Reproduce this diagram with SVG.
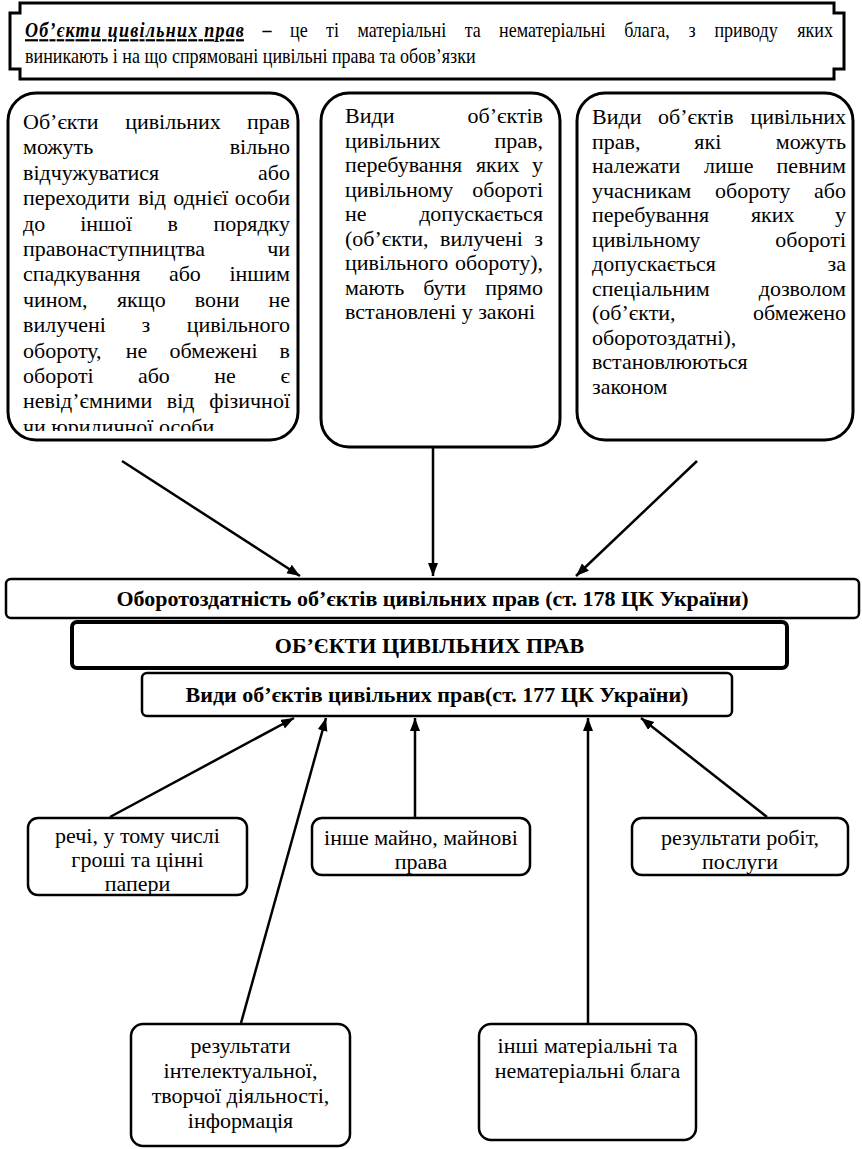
<svg xmlns="http://www.w3.org/2000/svg" width="862" height="1149" viewBox="0 0 862 1149" font-family="Liberation Serif, Times New Roman, serif">
<defs>
<style>
text{font-family:'Liberation Serif','Times New Roman',serif}
.t{font-size:22px;fill:#000}
.b{font-weight:bold}
.m{text-anchor:middle}
.e{text-anchor:end}
.box{fill:#fff;stroke:#000;stroke-width:3}
.bx{fill:#fff;stroke:#000;stroke-width:2.5}
.conn line{stroke:#000;stroke-width:2.5;fill:none}
</style>
<marker id="ar" markerUnits="userSpaceOnUse" markerWidth="14" markerHeight="12" refX="13" refY="5" orient="auto">
<path d="M0,0 L13,5 L0,10 z" fill="#000"/>
</marker>
<clipPath id="clipA"><rect x="8" y="93" width="290" height="338"/></clipPath>
</defs>
<rect width="862" height="1149" fill="#fff"/>

<g id="connectors" class="conn">
<line x1="122" y1="461" x2="300" y2="576" marker-end="url(#ar)"/>
<line x1="433" y1="447" x2="433" y2="576" marker-end="url(#ar)"/>
<line x1="697" y1="461" x2="576" y2="576" marker-end="url(#ar)"/>
<line x1="110" y1="817" x2="294" y2="718" marker-end="url(#ar)"/>
<line x1="241" y1="1023" x2="326" y2="718" marker-end="url(#ar)"/>
<line x1="415" y1="817" x2="415" y2="718" marker-end="url(#ar)"/>
<line x1="588" y1="1023" x2="588" y2="718" marker-end="url(#ar)"/>
<line x1="767" y1="817" x2="641" y2="718" marker-end="url(#ar)"/>
</g>

<g id="header">
<path d="M20,3 H834 V13 H844 V69 H834 V79 H20 V69 H10 V13 H20 Z" fill="#fff" stroke="#000" stroke-width="3"/>
<g transform="scale(0.82 1)">
<text class="t b" x="30.5" y="37" font-style="italic" text-decoration="underline" textLength="267" lengthAdjust="spacing">Об’єкти цивільних прав</text>
<text class="t b m" x="325.6" y="37">–</text>
<text class="t m" x="364.4" y="37">це</text>
<text class="t m" x="405.5" y="37">ті</text>
<text class="t m" x="490" y="37">матеріальні</text>
<text class="t m" x="576.5" y="37">та</text>
<text class="t m" x="673.5" y="37">нематеріальні</text>
<text class="t m" x="789" y="37">блага,</text>
<text class="t m" x="844" y="37">з</text>
<text class="t m" x="909.9" y="37">приводу</text>
<text class="t e" x="1015.9" y="37">яких</text>
<text class="t" x="30.5" y="63">виникають і на що спрямовані цивільні права та обов’язки</text>
</g>
</g>

<g id="boxA">
<rect class="box" x="8" y="93" width="290" height="347" rx="28"/>
<g clip-path="url(#clipA)">
<text class="t" x="23" y="129">Об’єкти</text><text class="t m" x="173" y="129">цивільних</text><text class="t e" x="290" y="129">прав</text>
<text class="t" x="23" y="154">можуть</text><text class="t e" x="290" y="154">вільно</text>
<text class="t" x="23" y="180">відчужуватися</text><text class="t e" x="290" y="180">або</text>
<text class="t" x="23" y="205">переходити</text><text class="t m" x="152" y="205">від</text><text class="t m" x="200.7" y="205">однієї</text><text class="t e" x="290" y="205">особи</text>
<text class="t" x="23" y="231">до</text><text class="t m" x="106.2" y="231">іншої</text><text class="t m" x="172.7" y="231">в</text><text class="t e" x="290" y="231">порядку</text>
<text class="t" x="23" y="256">правонаступництва</text><text class="t e" x="290" y="256">чи</text>
<text class="t" x="23" y="281">спадкування</text><text class="t m" x="184.9" y="281">або</text><text class="t e" x="290" y="281">іншим</text>
<text class="t" x="23" y="307">чином,</text><text class="t m" x="141.3" y="307">якщо</text><text class="t m" x="217.2" y="307">вони</text><text class="t e" x="290" y="307">не</text>
<text class="t" x="23" y="332">вилучені</text><text class="t m" x="145.9" y="332">з</text><text class="t e" x="290" y="332">цивільного</text>
<text class="t" x="23" y="358">обороту,</text><text class="t m" x="136.6" y="358">не</text><text class="t m" x="213.5" y="358">обмежені</text><text class="t e" x="290" y="358">в</text>
<text class="t" x="23" y="383">обороті</text><text class="t m" x="153.9" y="383">або</text><text class="t m" x="225" y="383">не</text><text class="t e" x="290" y="383">є</text>
<text class="t" x="23" y="408">невід’ємними</text><text class="t m" x="180.7" y="408">від</text><text class="t e" x="290" y="408">фізичної</text>
<text class="t" x="23" y="434">чи юридичної особи.</text>
</g>
</g>

<g id="boxB">
<rect class="box" x="321" y="93" width="239" height="354" rx="28"/>
<text class="t" x="345" y="123">Види</text><text class="t e" x="543" y="123">об’єктів</text>
<text class="t" x="345" y="147.5">цивільних</text><text class="t e" x="543" y="147.5">прав,</text>
<text class="t" x="345" y="172">перебування</text><text class="t m" x="497.8" y="172">яких</text><text class="t e" x="543" y="172">у</text>
<text class="t" x="345" y="196.5">цивільному</text><text class="t e" x="543" y="196.5">обороті</text>
<text class="t" x="345" y="221">не</text><text class="t e" x="543" y="221">допускається</text>
<text class="t" x="345" y="245.5">(об’єкти,</text><text class="t m" x="481.5" y="245.5">вилучені</text><text class="t e" x="543" y="245.5">з</text>
<text class="t" x="345" y="270">цивільного</text><text class="t e" x="543" y="270">обороту),</text>
<text class="t" x="345" y="294.5">мають</text><text class="t m" x="444.6" y="294.5">бути</text><text class="t e" x="543" y="294.5">прямо</text>
<text class="t" x="345" y="319">встановлені у законі</text>
</g>

<g id="boxC">
<rect class="box" x="577" y="93" width="276" height="347" rx="28"/>
<text class="t" x="592" y="124">Види</text><text class="t m" x="695.8" y="124">об’єктів</text><text class="t e" x="846" y="124">цивільних</text>
<text class="t" x="592" y="148.5">прав,</text><text class="t m" x="707.8" y="148.5">які</text><text class="t e" x="846" y="148.5">можуть</text>
<text class="t" x="592" y="173">належати</text><text class="t m" x="728.7" y="173">лише</text><text class="t e" x="846" y="173">певним</text>
<text class="t" x="592" y="197.5">учасникам</text><text class="t m" x="752.7" y="197.5">обороту</text><text class="t e" x="846" y="197.5">або</text>
<text class="t" x="592" y="222">перебування</text><text class="t m" x="772.8" y="222">яких</text><text class="t e" x="846" y="222">у</text>
<text class="t" x="592" y="246.5">цивільному</text><text class="t e" x="846" y="246.5">обороті</text>
<text class="t" x="592" y="271">допускається</text><text class="t e" x="846" y="271">за</text>
<text class="t" x="592" y="295.5">спеціальним</text><text class="t e" x="846" y="295.5">дозволом</text>
<text class="t" x="592" y="320">(об’єкти,</text><text class="t e" x="846" y="320">обмежено</text>
<text class="t" x="592" y="344.5">оборотоздатні),</text>
<text class="t" x="592" y="369">встановлюються</text>
<text class="t" x="592" y="393.5">законом</text>
</g>

<g id="bar178">
<rect x="6" y="579" width="853" height="39" rx="5" fill="#fff" stroke="#000" stroke-width="2.5"/>
<text class="t b m" x="432.5" y="606" font-size="23">Оборотоздатність об’єктів цивільних прав (ст. 178 ЦК України)</text>
</g>
<g id="barMain">
<rect x="72" y="622" width="715" height="46" rx="5" fill="#fff" stroke="#000" stroke-width="4"/>
<text class="t b m" x="429.5" y="653" font-size="24">ОБ’ЄКТИ ЦИВІЛЬНИХ ПРАВ</text>
</g>
<g id="bar177">
<rect x="142" y="673" width="590" height="43" rx="5" fill="#fff" stroke="#000" stroke-width="2.5"/>
<text class="t b m" x="437" y="702" font-size="23">Види об’єктів цивільних прав(ст. 177 ЦК України)</text>
</g>

<g id="things">
<rect class="bx" x="28" y="818" width="219" height="77" rx="10"/>
<text class="t m" x="137.5" y="843">речі, у тому числі</text>
<text class="t m" x="137.5" y="867">гроші та цінні</text>
<text class="t m" x="137.5" y="891">папери</text>
</g>
<g id="property">
<rect class="bx" x="312" y="818" width="218" height="57" rx="10"/>
<text class="t m" x="421" y="845">інше майно, майнові</text>
<text class="t m" x="421" y="869">права</text>
</g>
<g id="works">
<rect class="bx" x="632" y="818" width="216" height="57" rx="10"/>
<text class="t m" x="740" y="845">результати робіт,</text>
<text class="t m" x="740" y="869">послуги</text>
</g>
<g id="intellect">
<rect class="bx" x="131" y="1024" width="219" height="122" rx="12"/>
<text class="t m" x="240.5" y="1053">результати</text>
<text class="t m" x="240.5" y="1078">інтелектуальної,</text>
<text class="t m" x="240.5" y="1103">творчої діяльності,</text>
<text class="t m" x="240.5" y="1128">інформація</text>
</g>
<g id="otherGoods">
<rect class="bx" x="479" y="1024" width="217" height="116" rx="12"/>
<text class="t m" x="587.5" y="1053">інші матеріальні та</text>
<text class="t m" x="587.5" y="1078">нематеріальні блага</text>
</g>
</svg>
